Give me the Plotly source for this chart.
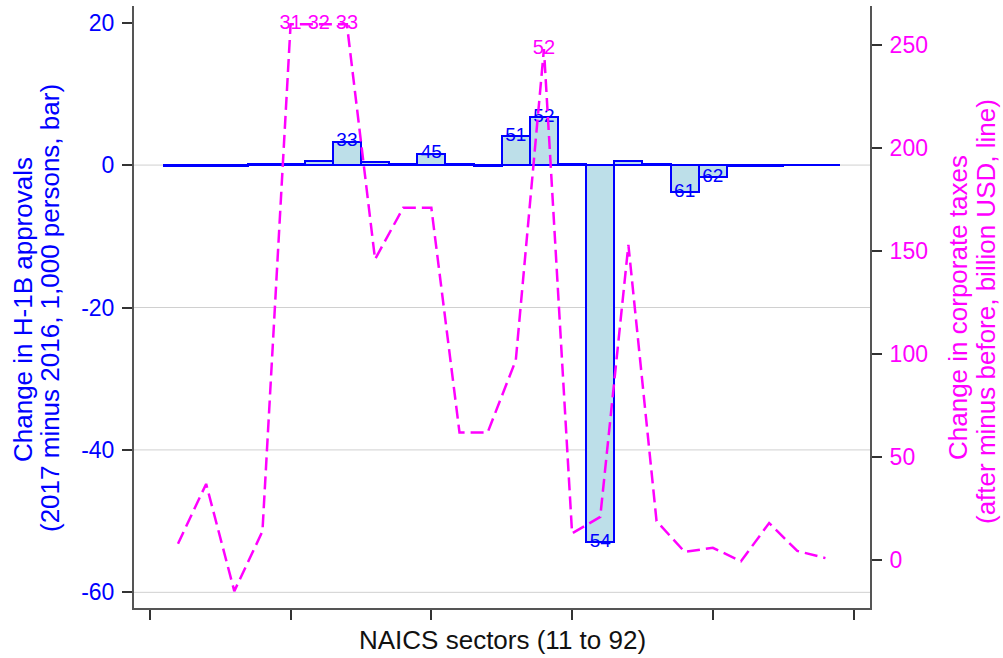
import plotly.graph_objects as go

# ---------------- data ----------------
SECTORS = ["11", "21", "22", "23", "31", "32", "33", "42", "44", "45", "48", "49",
           "51", "52", "53", "54", "55", "56", "61", "62", "71", "72", "81", "92"]
H1B_CHANGE = [-0.15, -0.1, -0.1, 0.15, 0.2, 0.6, 3.3, 0.4, 0.2, 1.6, 0.2, -0.1,
              4.1, 6.7, 0.15, -53.0, 0.6, 0.1, -3.8, -1.7, -0.1, -0.1, -0.05, -0.05]
TAX_CHANGE = [8, 37, -15, 14, 260, 260, 260, 146, 171, 171, 62, 62,
              97, 248, 13, 21, 153, 19, 4, 6, -0.5, 18, 4.5, 1]
BAR_LABELED = ["33", "45", "51", "52", "54", "61", "62"]
LINE_LABELED = ["31", "32", "33", "52"]
LEFT_TICKS = [-60, -40, -20, 0, 20]
GRID_Y = [-60, -40, -20, 0]
RIGHT_TICKS = [0, 50, 100, 150, 200, 250]
X_TICKS = [0, 5, 10, 15, 20, 25]

X_TITLE = "NAICS sectors (11 to 92)"
LEFT_TITLE = ["Change in H-1B approvals", "(2017 minus 2016, 1,000 persons, bar)"]
RIGHT_TITLE = ["Change in corporate taxes", "(after minus before, billion USD, line)"]

# ---------------- styling ----------------
FONT = "Liberation Sans, Arial, sans-serif"
BLUE = "#0000ff"
MAGENTA = "#ff00ff"
FILL = "#bddfe9"
AXIS = "#555555"

xpos = list(range(1, len(SECTORS) + 1))
idx = {s: i for i, s in enumerate(SECTORS)}

fig = go.Figure()

fig.add_trace(go.Bar(
    x=xpos, y=H1B_CHANGE, width=1.0,
    marker=dict(color=FILL, line=dict(color=BLUE, width=2)),
    yaxis="y", showlegend=False, hoverinfo="skip",
))

fig.add_trace(go.Scatter(
    x=[xpos[idx[s]] for s in BAR_LABELED],
    y=[H1B_CHANGE[idx[s]] for s in BAR_LABELED],
    text=BAR_LABELED, mode="text", textposition="middle center",
    textfont=dict(family=FONT, size=19, color=BLUE),
    yaxis="y", showlegend=False, cliponaxis=False, hoverinfo="skip",
))

fig.add_trace(go.Scatter(
    x=xpos, y=TAX_CHANGE, mode="lines",
    line=dict(color=MAGENTA, width=2.5, dash="13px,6px"),
    yaxis="y2", showlegend=False, hoverinfo="skip",
))

fig.add_trace(go.Scatter(
    x=[xpos[idx[s]] for s in LINE_LABELED],
    y=[TAX_CHANGE[idx[s]] for s in LINE_LABELED],
    text=LINE_LABELED, mode="text", textposition="middle center",
    textfont=dict(family=FONT, size=20, color=MAGENTA),
    yaxis="y2", showlegend=False, cliponaxis=False, hoverinfo="skip",
))

shapes = [dict(type="line", xref="paper", yref="y", x0=0, x1=1, y0=g, y1=g,
               line=dict(color="#d0d0d0", width=1), layer="below") for g in GRID_Y]

PLOT_L, PLOT_R, PLOT_T, PLOT_B = 134, 870, 6, 608
PW, PH = PLOT_R - PLOT_L, PLOT_B - PLOT_T


def px_x(px):
    return (px - PLOT_L) / PW


def px_y(py):
    return (PLOT_B - py) / PH


annotations = [
    dict(text=LEFT_TITLE[0], x=px_x(23), y=px_y(310), xref="paper", yref="paper",
         textangle=-90, showarrow=False, xanchor="center", yanchor="middle",
         font=dict(family=FONT, size=26, color=BLUE)),
    dict(text=LEFT_TITLE[1], x=px_x(50), y=px_y(308), xref="paper", yref="paper",
         textangle=-90, showarrow=False, xanchor="center", yanchor="middle",
         font=dict(family=FONT, size=26, color=BLUE)),
    dict(text=RIGHT_TITLE[0], x=px_x(958), y=px_y(308), xref="paper", yref="paper",
         textangle=-90, showarrow=False, xanchor="center", yanchor="middle",
         font=dict(family=FONT, size=26, color=MAGENTA)),
    dict(text=RIGHT_TITLE[1], x=px_x(986), y=px_y(312), xref="paper", yref="paper",
         textangle=-90, showarrow=False, xanchor="center", yanchor="middle",
         font=dict(family=FONT, size=26, color=MAGENTA)),
    dict(text=X_TITLE, x=0.5, y=px_y(640), xref="paper", yref="paper",
         showarrow=False, xanchor="center", yanchor="middle",
         font=dict(family=FONT, size=26, color="#111111")),
]

fig.update_layout(
    width=1003, height=658,
    margin=dict(l=PLOT_L, r=1003 - PLOT_R, t=PLOT_T, b=658 - PLOT_B, autoexpand=False),
    paper_bgcolor="white", plot_bgcolor="white",
    bargap=0, showlegend=False,
    font=dict(family=FONT),
    shapes=shapes, annotations=annotations,
    xaxis=dict(range=[-0.563, 25.583], tickvals=X_TICKS, showticklabels=False,
               ticks="outside", ticklen=10, tickwidth=1.5, tickcolor="#333333",
               showline=True, linecolor=AXIS, linewidth=2,
               showgrid=False, zeroline=False, fixedrange=True),
    yaxis=dict(range=[-62.2, 22.34], tickvals=LEFT_TICKS,
               ticktext=[str(v) for v in LEFT_TICKS],
               ticks="outside", ticklen=10, tickwidth=1.5, tickcolor="#333333",
               tickfont=dict(family=FONT, size=23, color=BLUE),
               ticklabelstandoff=3,
               showline=True, linecolor=AXIS, linewidth=2,
               showgrid=False, zeroline=False),
    yaxis2=dict(range=[-23.2, 268.9], tickvals=RIGHT_TICKS,
                overlaying="y", side="right", anchor="x",
                ticks="outside", ticklen=10, tickwidth=1.5, tickcolor="#333333",
                tickfont=dict(family=FONT, size=23, color=MAGENTA),
                ticklabelstandoff=3,
                showline=True, linecolor=AXIS, linewidth=2,
                showgrid=False, zeroline=False),
)

fig.write_html(
    "out.html",
    config={"displayModeBar": False},
    post_script="document.body.style.margin='0';document.body.style.overflow='hidden';",
)
